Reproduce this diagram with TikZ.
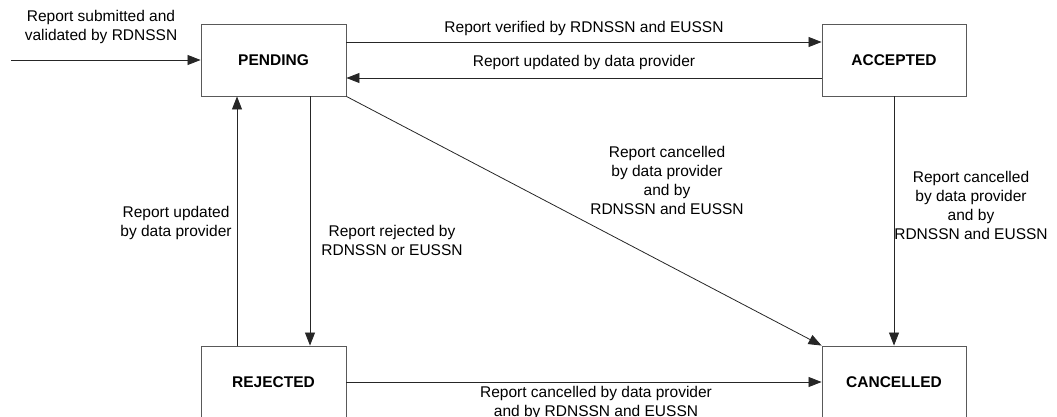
\documentclass[tikz,border=0pt]{standalone}
\usepackage{fontspec}
\setmainfont{Liberation Sans}
\usetikzlibrary{arrows.meta}
\begin{document}
\begin{tikzpicture}[x=1pt,y=-1pt,
  state/.style={draw=black!65, line width=0.9pt, minimum width=145pt, minimum height=72pt, inner sep=0pt, font=\bfseries\fontsize{15.5}{19}\selectfont},
  lbl/.style={align=center, inner sep=0pt, font=\fontsize{15.5}{19}\selectfont},
  arr/.style={draw=black!85, -{Triangle[length=13pt,width=10pt]}, line width=0.8pt},
  ln/.style={draw=black!85, line width=0.8pt}]
\useasboundingbox (0,0) rectangle (1057,417);
\clip (0,0) rectangle (1057,417);
\node[state] (pend) at (273.5,60) {PENDING};
\node[state, minimum width=144pt] (acc) at (894,60) {ACCEPTED};
\node[state] (rej) at (273.5,382) {REJECTED};
\node[state, minimum width=144pt] (canc) at (894,382) {CANCELLED};
\coordinate (start) at (11,60);
% connectors
\draw[arr] (start) -- (pend.west);
\draw[arr] ([yshift=18pt]pend.east) -- ([yshift=18pt]acc.west);
\draw[arr] ([yshift=-18pt]acc.west) -- ([yshift=-18pt]pend.east);
\draw[arr] (pend.south east) -- (canc.north west);
\draw[arr] (acc.south) -- (canc.north);
\draw[arr] ([xshift=36.5pt]pend.south) -- ([xshift=36.5pt]rej.north);
\draw[arr] ([xshift=-36.5pt]rej.north) -- ([xshift=-36.5pt]pend.south);
\draw[arr] (rej.east) -- (canc.west);
% labels
\node[lbl] (l1) at (101,27) {Report submitted and\\validated by RDNSSN};
\node[lbl] (l2) at (584,28) {Report verified by RDNSSN and EUSSN};
\node[lbl] (l3) at (584,62) {Report updated by data provider};
\node[lbl] (l4) at (667,180) {Report cancelled\\by data provider\\and by\\RDNSSN and EUSSN};
\node[lbl] (l5) at (971,205) {Report cancelled\\by data provider\\and by\\RDNSSN and EUSSN};
\node[lbl] (l6) at (176,222.5) {Report updated\\by data provider};
\node[lbl] (l7) at (392,240.5) {Report rejected by\\RDNSSN or EUSSN};
\node[lbl] (l8) at (596,402.5) {Report cancelled by data provider\\and by RDNSSN and EUSSN};
\end{tikzpicture}
\end{document}
